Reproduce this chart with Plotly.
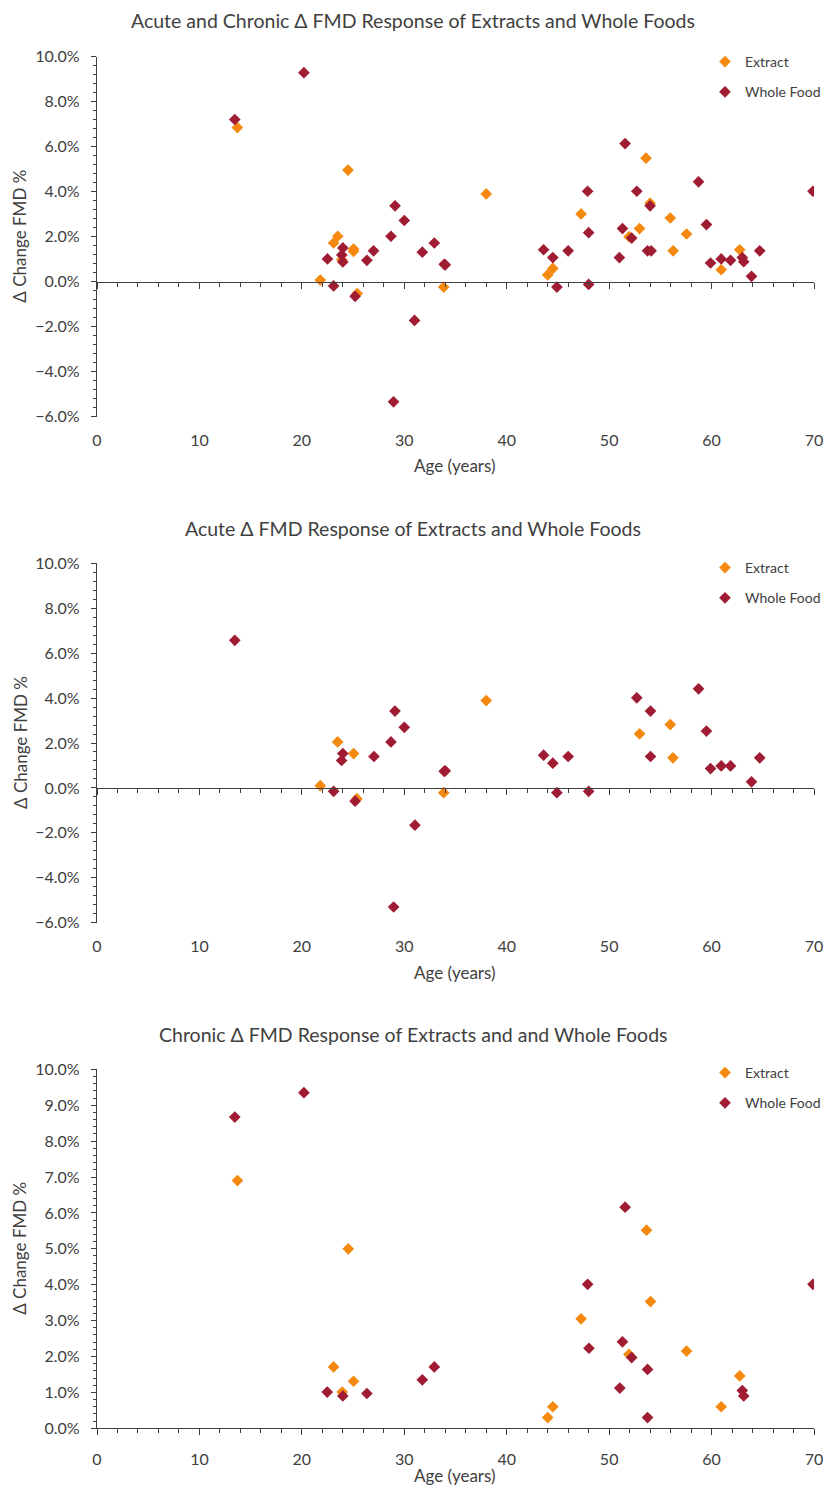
import plotly.graph_objects as go

# ---------------- data ----------------
titles = [
    "Acute and Chronic \u0394 FMD Response of Extracts and Whole Foods",
    "Acute \u0394 FMD Response of Extracts and Whole Foods",
    "Chronic \u0394 FMD Response of Extracts and and Whole Foods",
]
series_names = ["Extract", "Whole Food"]

# Panel 1: acute and chronic
p1_ext_age = [13.7, 21.8, 23.1, 23.5, 23.9, 24.5, 25.05, 25.05, 25.4, 33.85, 38.0, 44.0, 44.5,
              47.26, 51.95, 52.97, 53.6, 54.0, 55.97, 56.25, 57.56, 60.94, 62.75]
p1_ext_val = [6.85, 0.07, 1.72, 2.02, 0.98, 4.96, 1.45, 1.35, -0.53, -0.24, 3.90, 0.30, 0.59,
              3.01, 2.00, 2.36, 5.49, 3.49, 2.83, 1.37, 2.12, 0.53, 1.42]
p1_wf_age = [13.45, 20.2, 22.5, 23.1, 23.9, 24.0, 24.0, 25.2, 26.35, 27.0, 28.7, 28.95, 29.1,
             30.0, 31.0, 31.76, 32.93, 33.9, 34.0, 43.6, 44.5, 44.9, 46.0, 47.9, 48.0, 48.0,
             51.0, 51.3, 51.56, 52.2, 52.7, 53.75, 54.0, 54.1, 58.73, 59.5, 59.9, 60.94, 61.85,
             63.0, 63.14, 63.9, 64.7, 69.9]
p1_wf_val = [7.21, 9.29, 1.01, -0.19, 1.19, 1.50, 0.88, -0.65, 0.95, 1.37, 2.02, -5.34, 3.37,
             2.72, -1.72, 1.31, 1.72, 0.77, 0.75, 1.42, 1.07, -0.24, 1.37, 4.02, 2.18, -0.12,
             1.07, 2.36, 6.14, 1.94, 4.02, 1.37, 3.37, 1.37, 4.44, 2.54, 0.83, 1.01, 0.95,
             1.07, 0.89, 0.24, 1.37, 4.02]

# Panel 2: acute
p2_ext_age = [21.8, 23.49, 25.05, 25.37, 33.85, 38.0, 52.97, 55.97, 56.23]
p2_ext_val = [0.10, 2.05, 1.53, -0.48, -0.21, 3.89, 2.41, 2.82, 1.34]
p2_wf_age = [13.45, 23.1, 23.88, 24.0, 25.2, 27.04, 28.7, 28.96, 29.09, 30.0, 31.04, 33.9, 34.0,
             43.6, 44.5, 44.9, 46.0, 48.0, 52.7, 54.04, 54.04, 58.73, 59.5, 59.9, 60.94, 61.85,
             63.9, 64.7]
p2_wf_val = [6.57, -0.15, 1.22, 1.53, -0.59, 1.40, 2.05, -5.30, 3.42, 2.70, -1.66, 0.74, 0.76,
             1.46, 1.10, -0.21, 1.40, -0.15, 4.01, 3.42, 1.40, 4.41, 2.53, 0.86, 0.98, 0.98,
             0.27, 1.34]

# Panel 3: chronic
p3_ext_age = [13.71, 23.1, 23.94, 24.53, 25.05, 44.0, 44.5, 47.26, 51.93, 53.65, 54.04, 57.56,
              60.94, 62.75]
p3_ext_val = [6.90, 1.71, 1.01, 5.00, 1.31, 0.30, 0.60, 3.05, 2.06, 5.52, 3.53, 2.15, 0.60, 1.46]
p3_wf_age = [13.45, 20.2, 22.48, 24.0, 26.35, 31.76, 32.93, 47.9, 48.03, 51.04, 51.3, 51.56,
             52.2, 53.75, 53.75, 63.0, 63.14, 69.9]
p3_wf_val = [8.67, 9.35, 1.01, 0.90, 0.97, 1.35, 1.71, 4.01, 2.23, 1.12, 2.41, 6.16, 1.97, 1.64,
             0.30, 1.05, 0.90, 4.01]

x_range = [0, 70]
y_ranges = [[-6, 10], [-6, 10], [0, 10]]
y_dticks = [2, 2, 1]
y_minor = [0.4, 0.4, 0.2]
x_title = "Age (years)"
y_title = "\u0394 Change FMD %"

# ---------------- styling ----------------
W, H = 826, 1487
FONT = "Lato"
TXT = "#404040"
AX = "#404040"
C_EXT = "#F5890F"
C_WF = "#A01C33"


def fx(p):
    return p / W


def fy(p):
    return 1 - p / H


x_dom = [fx(97), fx(814)]
pix_top = [56.7, 563.3, 1069.3]
pix_bot = [416.7, 922.7, 1428.3]
title_y = [20, 528, 1034]
xtitle_y = [465, 972, 1475]
legend_top = [46, 552, 1057]

panels = [
    (p1_ext_age, p1_ext_val, p1_wf_age, p1_wf_val),
    (p2_ext_age, p2_ext_val, p2_wf_age, p2_wf_val),
    (p3_ext_age, p3_ext_val, p3_wf_age, p3_wf_val),
]

fig = go.Figure()
annotations = []
layout = dict(
    width=W, height=H,
    margin=dict(l=0, r=0, t=0, b=0, autoexpand=False),
    paper_bgcolor="white", plot_bgcolor="white",
    font=dict(family=FONT, color=TXT, size=15),
    showlegend=True,
)

for i, (ea, ev, wa, wv) in enumerate(panels):
    n = i + 1
    xa = "x" if n == 1 else f"x{n}"
    ya = "y" if n == 1 else f"y{n}"
    leg = "legend" if n == 1 else f"legend{n}"
    y0 = fy(pix_bot[i])
    y1 = fy(pix_top[i])

    fig.add_trace(go.Scatter(x=ea, y=ev, mode="markers", name=series_names[0],
                             marker=dict(symbol="diamond", size=9, color=C_EXT),
                             xaxis=xa, yaxis=ya, legend=leg, legendgroup=f"e{n}"))
    fig.add_trace(go.Scatter(x=wa, y=wv, mode="markers", name=series_names[1],
                             marker=dict(symbol="diamond", size=9, color=C_WF),
                             xaxis=xa, yaxis=ya, legend=leg, legendgroup=f"w{n}"))

    yr = y_ranges[i]
    crosses_at_zero = yr[0] < 0
    xkey = "xaxis" if n == 1 else f"xaxis{n}"
    ykey = "yaxis" if n == 1 else f"yaxis{n}"

    layout[xkey] = dict(
        domain=x_dom, anchor=ya, range=x_range, dtick=10, tick0=0,
        showgrid=False, zeroline=False, automargin=False,
        showline=not crosses_at_zero, linecolor=AX, linewidth=1.3,
        ticks="" if crosses_at_zero else "outside", ticklen=6, tickcolor=AX, tickwidth=1.3,
        minor=dict(dtick=2, ticks="" if crosses_at_zero else "outside", ticklen=4,
                   tickcolor=AX, tickwidth=1.3, showgrid=False),
        tickfont=dict(size=16, color=TXT, family=FONT),
        ticklabelstandoff=12 if crosses_at_zero else 10,
    )
    layout[ykey] = dict(
        domain=[y0, y1], anchor=xa, range=yr, dtick=y_dticks[i], tick0=0,
        showgrid=False, zeroline=False, automargin=False,
        showline=True, linecolor=AX, linewidth=1.3,
        ticks="outside", ticklen=5, tickcolor=AX, tickwidth=1.3,
        minor=dict(dtick=y_minor[i], ticks="outside", ticklen=3, tickcolor=AX,
                   tickwidth=1.1, showgrid=False),
        ticksuffix="%", tickformat=".1f",
        tickfont=dict(size=16, color=TXT, family=FONT),
        ticklabelstandoff=8,
    )

    if crosses_at_zero:
        # horizontal axis drawn where y = 0
        k = 3 + n
        zx = f"x{k}"
        frac = (0 - yr[0]) / (yr[1] - yr[0])
        layout[f"xaxis{k}"] = dict(
            overlaying=xa, matches=xa, anchor="free", position=y0 + frac * (y1 - y0),
            domain=x_dom, range=x_range, dtick=10, tick0=0, automargin=False,
            showgrid=False, zeroline=False, showticklabels=False,
            showline=True, linecolor=AX, linewidth=1.3,
            ticks="outside", ticklen=6, tickcolor=AX, tickwidth=1.3,
            minor=dict(dtick=2, ticks="outside", ticklen=4, tickcolor=AX, tickwidth=1.3,
                       showgrid=False),
        )
        fig.add_trace(go.Scatter(x=[], y=[], mode="markers", showlegend=False,
                                 hoverinfo="skip", xaxis=zx, yaxis=ya))

    layout[leg] = dict(
        x=fx(705), y=fy(legend_top[i]), xanchor="left", yanchor="top",
        bgcolor="rgba(0,0,0,0)", font=dict(size=14, color=TXT, family=FONT),
        tracegroupgap=9,
    )

    annotations.append(dict(text=titles[i], x=fx(413), y=fy(title_y[i]), xref="paper",
                            yref="paper", showarrow=False, xanchor="center", yanchor="middle",
                            font=dict(size=19.5, color=TXT, family=FONT)))
    annotations.append(dict(text=x_title, x=(x_dom[0] + x_dom[1]) / 2, y=fy(xtitle_y[i]),
                            xref="paper", yref="paper", showarrow=False, xanchor="center",
                            yanchor="middle", font=dict(size=17, color=TXT, family=FONT)))
    annotations.append(dict(text=y_title, x=fx(20), y=(y0 + y1) / 2, xref="paper",
                            yref="paper", showarrow=False, textangle=-90, xanchor="center",
                            yanchor="middle", font=dict(size=17, color=TXT, family=FONT)))

layout["annotations"] = annotations
fig.update_layout(**layout)
fig.write_html(
    "out.html",
    config={"displayModeBar": False},
    post_script="document.body.style.margin='0';document.body.style.overflow='hidden';",
)
